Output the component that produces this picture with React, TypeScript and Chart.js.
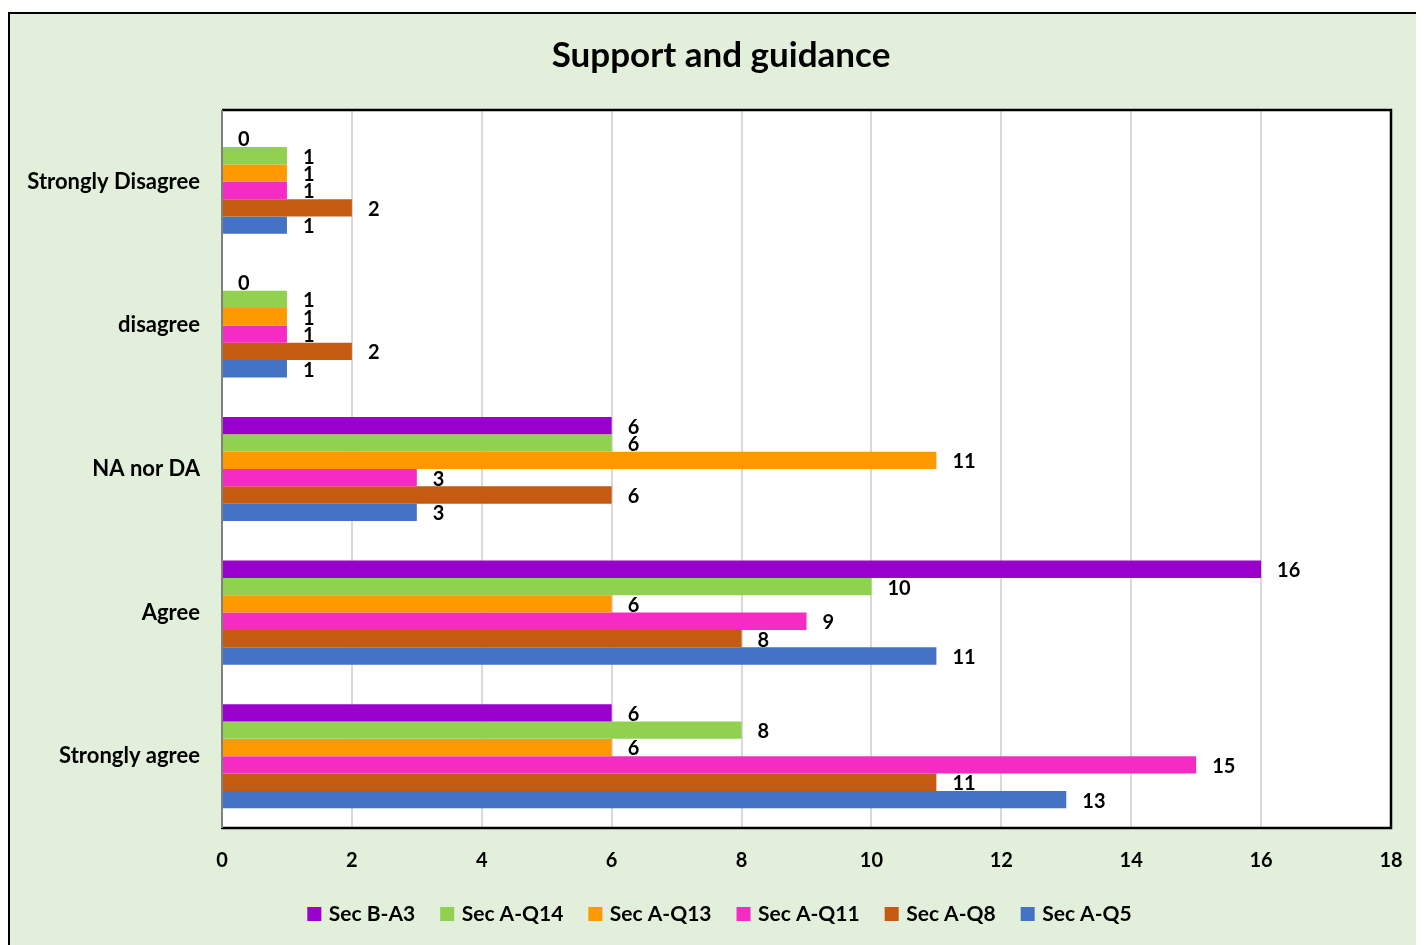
import React, { useEffect, useRef } from "react";
import { Chart, registerables } from "chart.js";

Chart.register(...registerables);

const FONT = "Lato, 'Noto Sans', sans-serif";

const categories = ["Strongly Disagree", "disagree", "NA nor DA", "Agree", "Strongly agree"];
const seriesNames = ["Sec B-A3", "Sec A-Q14", "Sec A-Q13", "Sec A-Q11", "Sec A-Q8", "Sec A-Q5"];
const secBA3 = [0, 0, 6, 16, 6];
const secAQ14 = [1, 1, 6, 10, 8];
const secAQ13 = [1, 1, 11, 6, 6];
const secAQ11 = [1, 1, 3, 9, 15];
const secAQ8 = [2, 2, 6, 8, 11];
const secAQ5 = [1, 1, 3, 11, 13];
const seriesColors = ["#9900CC", "#92D050", "#FF9900", "#F52CC4", "#C55A11", "#4472C4"];
const xMin = 0;
const xMax = 18;
const xStep = 2;

const dataLabelPlugin = {
  id: "dataLabels",
  afterDatasetsDraw(chart: any) {
    const ctx = chart.ctx;
    ctx.save();
    ctx.font = `bold 20px ${FONT}`;
    ctx.fillStyle = "#000";
    ctx.textAlign = "left";
    ctx.textBaseline = "middle";
    chart.data.datasets.forEach((ds: any, i: number) => {
      const meta = chart.getDatasetMeta(i);
      meta.data.forEach((el: any, j: number) => {
        ctx.fillText(String(ds.data[j]), el.x + 16, el.y + 1.5);
      });
    });
    ctx.restore();
  },
};

const framePlugin = {
  id: "frame",
  beforeDraw(chart: any) {
    const { ctx, chartArea: a } = chart;
    ctx.save();
    ctx.fillStyle = "#FFFFFF";
    ctx.fillRect(a.left, a.top, a.right - a.left, a.bottom - a.top);
    ctx.restore();
  },
  afterDraw(chart: any) {
    const { ctx, chartArea: a } = chart;
    ctx.save();
    ctx.strokeStyle = "#000";
    ctx.lineWidth = 2.5;
    ctx.beginPath();
    ctx.moveTo(a.left, a.top);
    ctx.lineTo(a.right, a.top);
    ctx.lineTo(a.right, a.bottom);
    ctx.lineTo(a.left - 1, a.bottom);
    ctx.stroke();
    ctx.strokeStyle = "#808080";
    ctx.lineWidth = 2;
    ctx.beginPath();
    ctx.moveTo(a.left, a.top);
    ctx.lineTo(a.left, a.bottom);
    ctx.stroke();
    ctx.restore();
  },
};

export default function App() {
  const canvasRef = useRef<HTMLCanvasElement | null>(null);

  useEffect(() => {
    const canvas = canvasRef.current;
    if (!canvas) return;
    const seriesData = [secBA3, secAQ14, secAQ13, secAQ11, secAQ8, secAQ5];
    const chart = new Chart(canvas, {
      type: "bar",
      data: {
        labels: categories,
        datasets: seriesNames.map((name, i) => ({
          label: name,
          data: seriesData[i],
          backgroundColor: seriesColors[i],
          borderWidth: 0,
          barPercentage: 1,
          categoryPercentage: 0.725,
        })),
      },
      options: {
        indexAxis: "y",
        animation: false,
        responsive: false,
        layout: { padding: { left: 0, right: 0, top: 0, bottom: 10.5 } },
        plugins: {
          tooltip: { enabled: false },
          title: {
            display: true,
            text: "Support and guidance",
            color: "#000",
            font: { family: FONT, size: 35, weight: "bold" },
            padding: { top: 21, bottom: 33 },
          },
          legend: {
            position: "bottom",
            labels: {
              color: "#000",
              font: { family: FONT, size: 21, weight: "bold" },
              usePointStyle: true,
              pointStyle: "rect",
              boxWidth: 8,
              boxHeight: 14,
              padding: 28,
            },
          },
        },
        scales: {
          x: {
            min: xMin,
            max: xMax,
            ticks: {
              stepSize: xStep,
              color: "#000",
              font: { family: FONT, size: 20, weight: "bold" },
              padding: 21,
            },
            grid: { color: "#D9D9D9", lineWidth: 2, drawTicks: false },
            border: { display: false },
            afterFit(scale: any) {
              scale.height = 47.5;
            },
          },
          y: {
            ticks: {
              color: "#000",
              font: { family: FONT, size: 22, weight: "bold" },
              padding: 22,
            },
            grid: { display: false, drawTicks: false },
            border: { display: false },
            afterFit(scale: any) {
              scale.width = 212;
            },
          },
          yRight: {
            type: "linear",
            axis: "y",
            position: "right",
            display: true,
            ticks: { display: false },
            grid: { display: false, drawTicks: false },
            border: { display: false },
            afterFit(scale: any) {
              scale.width = 41;
            },
          },
        },
      },
      plugins: [framePlugin, dataLabelPlugin],
    } as any);
    return () => chart.destroy();
  }, []);

  return (
    <div style={{ width: 1416, height: 937, position: "relative", overflow: "hidden" }}>
      <div
        style={{
          position: "absolute",
          left: 0,
          top: 4,
          width: 1424,
          height: 933,
          boxSizing: "border-box",
          borderTop: "2px solid #000",
          borderLeft: "2px solid #000",
          background: "#E2EFDA",
        }}
      >
        <canvas ref={canvasRef} width={1422} height={931} style={{ display: "block" }} />
      </div>
    </div>
  );
}
